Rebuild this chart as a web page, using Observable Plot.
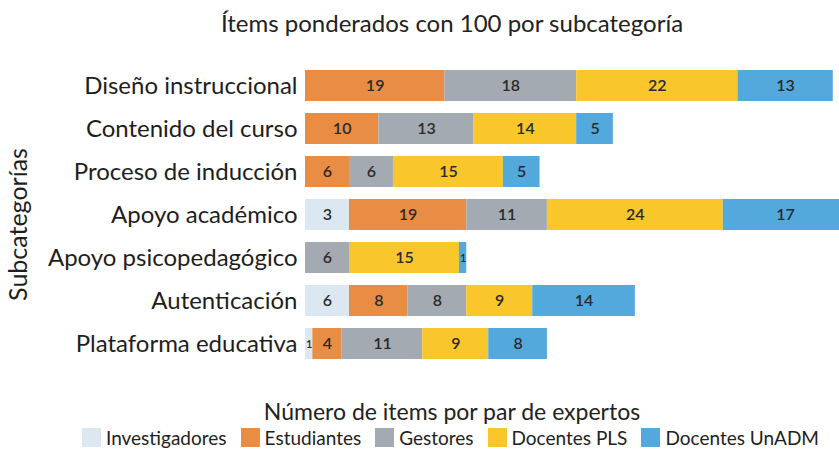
<!DOCTYPE html>
<html>
<head>
<meta charset="utf-8">
<script src="https://cdn.jsdelivr.net/npm/d3@7"></script>
<script src="https://cdn.jsdelivr.net/npm/@observablehq/plot@0.6"></script>
<style>
  html, body { margin: 0; padding: 0; background: #fff; overflow: hidden; }
  body { width: 839px; height: 453px; font-family: Lato, "Noto Sans", sans-serif; color: #222; }
  .title { height: 50px; line-height: 46px; font-size: 24px; text-align: center; padding-left: 65px; box-sizing: border-box; width: 839px; }
  .xlabel { margin-top: 16px; height: 30px; line-height: 30px; font-size: 23px; text-align: center; padding-left: 65px; box-sizing: border-box; width: 839px; }
  .legend { display: flex; justify-content: center; gap: 14px; padding-left: 62px; box-sizing: border-box; width: 839px; font-size: 19px; }
  .legend .item { display: flex; align-items: center; gap: 5px; }
  .legend .sw { width: 19px; height: 19px; display: inline-block; }
  #chart svg { display: block; }
</style>
</head>
<body>
<div class="title">Ítems ponderados con 100 por subcategoría</div>
<div id="chart"></div>
<div class="xlabel">Número de items por par de expertos</div>
<div class="legend" id="legend"></div>
<script>
const categories = ["Diseño instruccional", "Contenido del curso", "Proceso de inducción", "Apoyo académico", "Apoyo psicopedagógico", "Autenticación", "Plataforma educativa"];
const groups = ["Investigadores", "Estudiantes", "Gestores", "Docentes PLS", "Docentes UnADM"];
const colors = ["#dce8f1", "#e98d45", "#a4aab1", "#f9c62c", "#53a8dc"];
// printed values
const investigadores = [0, 0, 0, 3, 0, 6, 1];
const estudiantes = [19, 10, 6, 19, 0, 8, 4];
const gestores = [18, 13, 6, 11, 6, 8, 11];
const docentesPLS = [22, 14, 15, 24, 15, 9, 9];
const docentesUnADM = [13, 5, 5, 17, 1, 14, 8];
// bar lengths as drawn in the source where they differ from the printed value
const drawnInvestigadores = [0, 0, 0, 6, 0, 6, 1];
const drawnEstudiantes = [19, 10, 6, 16, 0, 8, 4];

const series = [investigadores, estudiantes, gestores, docentesPLS, docentesUnADM];
const drawn = [drawnInvestigadores, drawnEstudiantes, gestores, docentesPLS, docentesUnADM];
const data = [];
categories.forEach((c, i) => {
  series.forEach((s, j) => {
    if (s[i] > 0) data.push({cat: c, group: groups[j], value: s[i], length: drawn[j][i]});
  });
});

const plot = Plot.plot({
  width: 839,
  height: 330,
  marginLeft: 305,
  marginRight: 0,
  marginTop: 6,
  marginBottom: 8,
  style: {fontFamily: "Lato, 'Noto Sans', sans-serif", color: "#1e1e1e", overflow: "hidden"},
  x: {domain: [0, 72.85], axis: null},
  y: {domain: categories, padding: 0.283, label: null},
  color: {domain: groups, range: colors},
  marks: [
    Plot.barX(data, Plot.stackX({x: "length", y: "cat", fill: "group", z: "group", order: groups, clip: true})),
    Plot.text(data, Plot.stackX({x: "length", y: "cat", z: "group", order: groups, text: d => String(d.value), fill: "#2b2b2b", fontSize: d => d.value <= 1 ? 11 : 16, fontWeight: 600, clip: true})),
    Plot.axisY({tickSize: 0, tickPadding: 8, fontSize: 24, label: null}),
    Plot.text(["Subcategorías"], {frameAnchor: "left", dx: -287, dy: 10, rotate: -90, textAnchor: "middle", fontSize: 25, fill: "#1e1e1e", text: d => d})
  ]
});
document.getElementById("chart").appendChild(plot);

const legend = document.getElementById("legend");
groups.forEach((g, i) => {
  const it = document.createElement("div");
  it.className = "item";
  const sw = document.createElement("span");
  sw.className = "sw";
  sw.style.background = colors[i];
  const t = document.createElement("span");
  t.textContent = g;
  it.appendChild(sw); it.appendChild(t);
  legend.appendChild(it);
});
</script>
</body>
</html>
